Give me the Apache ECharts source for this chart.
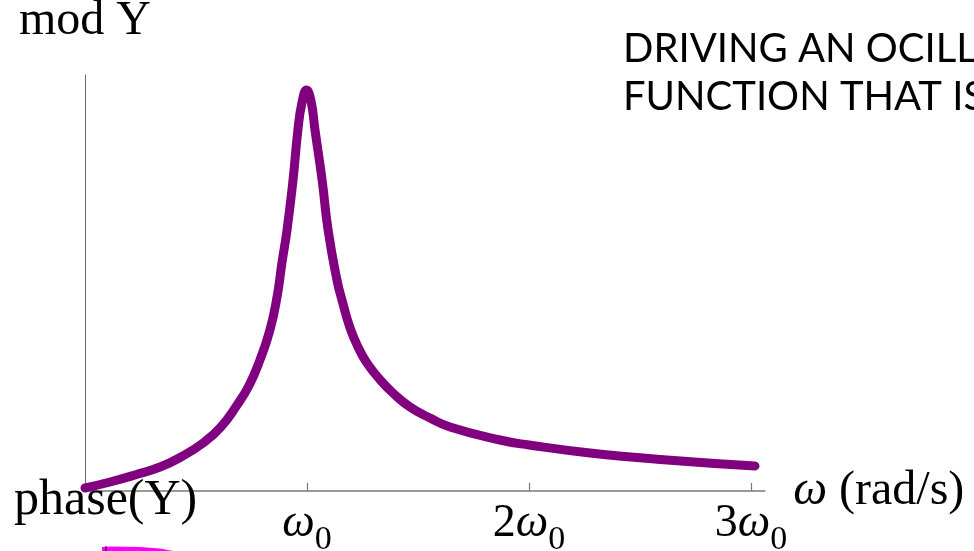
<!DOCTYPE html>
<html>
<head>
<meta charset="utf-8">
<script src="https://cdn.jsdelivr.net/npm/echarts@6/dist/echarts.min.js"></script>
<style>
html,body{margin:0;padding:0;background:#fff;}
#chart{width:974px;height:551px;}
</style>
</head>
<body>
<div id="chart"></div>
<script>
// omega in units of omega_0
var omega = [0.000, 0.113, 0.225, 0.338, 0.432, 0.532, 0.612, 0.685, 0.740, 0.788, 0.833, 0.865, 0.887, 0.910, 0.937, 0.959, 0.977, 0.998, 1.018, 1.036, 1.068, 1.095, 1.135, 1.160, 1.194, 1.232, 1.270, 1.330, 1.387, 1.464, 1.554, 1.644, 1.869, 2.000, 2.275, 2.622, 3.018];
// |Y| (arbitrary units)
var modY = [3, 9, 16, 24, 34, 48, 64, 86, 106, 131, 161, 194, 228, 261, 311, 361, 388, 401, 390, 361, 311, 261, 211, 189, 163, 143, 128, 111, 98, 84, 73, 64, 51, 46, 38, 31, 25];
var xTicks = [1, 2, 3];
var xTickLabels = ['{w|ω}{s|0}', '{n|2}{w|ω}{s|0}', '{n|3}{w|ω}{s|0}'];
var titleLines = ['DRIVING AN OCILLATOR', 'FUNCTION THAT IS'];

var serif = "'Liberation Serif', 'DejaVu Serif', serif";
var chart = echarts.init(document.getElementById('chart'), null, {renderer: 'canvas'});
var pts = omega.map(function (w, i) { return [w, modY[i]]; });

chart.setOption({
  animation: false,
  backgroundColor: '#fff',
  grid: {left: 85, right: 209, top: 75, bottom: 60, containLabel: false, outerBoundsMode: 'none'},
  title: {
    text: titleLines.join('\n'),
    left: 618, top: 20,
    textStyle: {fontFamily: "Lato, 'Open Sans', sans-serif", fontSize: 40, fontWeight: 'normal', color: '#000', lineHeight: 48}
  },
  xAxis: {
    type: 'value', min: 0, max: 3.063,
    name: '{w|ω} (rad/s)',
    nameLocation: 'end', nameGap: 24,
    nameTextStyle: {
      fontFamily: serif, fontSize: 48, color: '#000', verticalAlign: 'middle', align: 'left',
      rich: {w: {fontFamily: serif, fontStyle: 'italic', fontSize: 48, color: '#000'}}
    },
    splitLine: {show: false},
    axisLine: {lineStyle: {color: '#7a7a7a', width: 1.5}},
    axisTick: {show: true, inside: true, length: 8, customValues: xTicks, lineStyle: {color: '#7a7a7a', width: 1.2}},
    axisLabel: {
      customValues: xTicks, margin: 6,
      formatter: function (v) { var i = xTicks.indexOf(Math.round(v)); return i >= 0 ? xTickLabels[i] : ''; },
      fontFamily: serif, color: '#000',
      rich: {
        n: {fontFamily: serif, fontSize: 46, color: '#000', verticalAlign: 'bottom', lineHeight: 50},
        w: {fontFamily: serif, fontStyle: 'italic', fontSize: 46, color: '#000', verticalAlign: 'bottom', lineHeight: 50},
        s: {fontFamily: serif, fontSize: 34, color: '#000', verticalAlign: 'bottom', lineHeight: 50, padding: [0, 0, -10, 0]}
      }
    }
  },
  yAxis: {
    type: 'value', min: 0, max: 416,
    name: 'mod Y', nameLocation: 'end', nameGap: 30,
    nameTextStyle: {fontFamily: serif, fontSize: 48, color: '#000', align: 'center'},
    splitLine: {show: false},
    axisLine: {show: true, lineStyle: {color: '#6a6a6a', width: 1}},
    axisTick: {show: false},
    axisLabel: {show: false}
  },
  series: [{
    type: 'line', data: pts, smooth: 0.5, showSymbol: false, symbol: 'none',
    lineStyle: {color: '#800080', width: 9, cap: 'round', join: 'round'}, clip: false
  }],
  graphic: [
    {type: 'text', left: 14, top: 476, z: 10,
     style: {text: 'phase(Y)', fontFamily: serif, fontSize: 50, fill: '#000'}},
    {type: 'polygon', z: 5,
     shape: {points: [[102, 547], [110, 546.5], [140, 547], [160, 548.5], [173, 551], [102, 551]]},
     style: {fill: '#ff00ff'}},
    {type: 'line', z: 6, shape: {x1: 106, y1: 546, x2: 106, y2: 551}, style: {stroke: '#000', lineWidth: 1}}
  ]
});
</script>
</body>
</html>
